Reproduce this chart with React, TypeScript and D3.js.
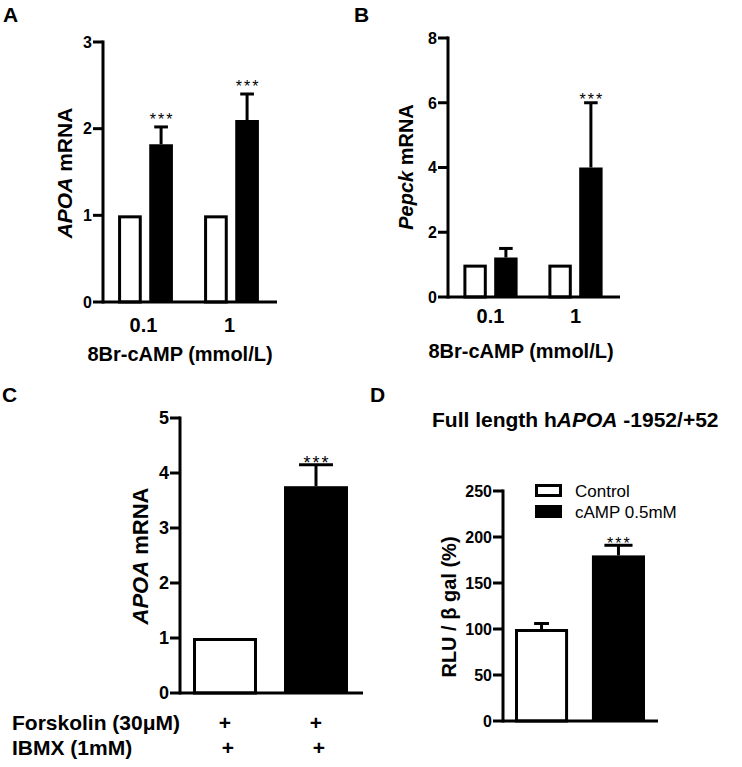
import React from 'react';
import * as d3 from 'd3';

const FONT = "'Liberation Sans', Arial, Helvetica, sans-serif";

// A: APOA mRNA vs 8Br-cAMP dose
const doseLabels = ['0.1', '1'];
const seriesKeys = ['control', 'camp'];
const apoaControl = [1, 1];
const apoaCamp = [1.82, 2.1];
const apoaCampSem = [0.2, 0.3];
const apoaSig = ['***', '***'];
const apoaTicks = [0, 1, 2, 3];

// B: Pepck mRNA vs 8Br-cAMP dose
const pepckControl = [1, 1];
const pepckCamp = [1.22, 4.0];
const pepckCampSem = [0.28, 2.0];
const pepckSig = ['', '***'];
const pepckTicks = [0, 2, 4, 6, 8];

// C: forskolin + IBMX
const fskGroups = ['control', 'treated'];
const fskValues = [1, 3.76];
const fskSem = [0, 0.39];
const fskSig = ['', '***'];
const fskTicks = [0, 1, 2, 3, 4, 5];
const forskolinRow = ['+', '+'];
const ibmxRow = ['+', '+'];

// D: promoter luciferase
const lucGroups = ['Control', 'cAMP 0.5mM'];
const lucValues = [100, 180];
const lucSem = [6, 11];
const lucSig = ['', '***'];
const lucTicks = [0, 50, 100, 150, 200, 250];

const SW = 3;

function Bar({ x, w, top, base, filled }: { x: number; w: number; top: number; base: number; filled: boolean }) {
  if (filled) return <rect x={x} y={top} width={w} height={base - top} fill="#000" />;
  return (
    <rect x={x + SW / 2} y={top + SW / 2} width={w - SW} height={base - top - SW / 2}
      fill="#fff" stroke="#000" strokeWidth={SW} />
  );
}

function ErrorBar({ cx, yBar, yTop, capW }: { cx: number; yBar: number; yTop: number; capW: number }) {
  if (Math.abs(yBar - yTop) < 0.5) return null;
  return (
    <g stroke="#000" strokeWidth={SW}>
      <line x1={cx} x2={cx} y1={yBar} y2={yTop} />
      <line x1={cx - capW / 2} x2={cx + capW / 2} y1={yTop} y2={yTop} />
    </g>
  );
}

function Stars({ x, y, text, size }: { x: number; y: number; text: string; size: number }) {
  if (!text) return null;
  return (
    <text x={x + 1} y={y} textAnchor="middle" fontSize={size} letterSpacing={2}
      fontFamily={FONT} fill="#000">{text}</text>
  );
}

function Axes({ y, ticks, x0, x1, fontSize, fmt }: {
  y: d3.ScaleLinear<number, number>; ticks: number[]; x0: number; x1: number; fontSize: number; fmt?: (v: number) => string;
}) {
  const [d0, d1] = y.domain();
  return (
    <g>
      <line x1={x0} x2={x0} y1={y(d1)} y2={y(d0)} stroke="#000" strokeWidth={SW} strokeLinecap="square" />
      <line x1={x0} x2={x1} y1={y(d0)} y2={y(d0)} stroke="#000" strokeWidth={SW} />
      {ticks.map(t => (
        <g key={t}>
          <line x1={x0 - 10} x2={x0} y1={y(t)} y2={y(t)} stroke="#000" strokeWidth={SW} />
          <text x={x0 - 11} y={y(t)} dy="0.36em" textAnchor="end" fontSize={fontSize}
            fontWeight="bold" fontFamily={FONT}>{fmt ? fmt(t) : String(t)}</text>
        </g>
      ))}
    </g>
  );
}

function GroupedPanel({ control, treated, sem, sig, ticks, yDomain, yRange, xRange, axisX, axisEnd, starOffset }: any) {
  const y = d3.scaleLinear().domain(yDomain).range(yRange);
  const x0 = d3.scaleBand().domain(doseLabels).range(xRange);
  const x1 = d3.scaleBand().domain(seriesKeys).range([0, x0.bandwidth()]).paddingInner(0.24).paddingOuter(0.5);
  const bw = x1.bandwidth();
  return (
    <g>
      {doseLabels.map((d, i) => {
        const gx = x0(d) || 0;
        const cx = gx + (x1('camp') || 0) + bw / 2;
        const errTop = y(treated[i] + sem[i]);
        return (
          <g key={d}>
            <Bar x={gx + (x1('control') || 0)} w={bw} top={y(control[i])} base={y(0)} filled={false} />
            <Bar x={gx + (x1('camp') || 0)} w={bw} top={y(treated[i])} base={y(0)} filled />
            <ErrorBar cx={cx} yBar={y(treated[i])} yTop={errTop} capW={bw * 0.58} />
            <Stars x={cx} y={errTop + starOffset} text={sig[i]} size={16} />
          </g>
        );
      })}
      <Axes y={y} ticks={ticks} x0={axisX} x1={axisEnd} fontSize={16} />
    </g>
  );
}

export default function App() {
  // Panel C scales
  const yC = d3.scaleLinear().domain([0, 5]).range([693, 418]);
  const xC = d3.scaleBand().domain(fskGroups).range([180, 361]).paddingInner(0.297).paddingOuter(0.143);
  const bwC = xC.bandwidth();
  // Panel D scales
  const yD = d3.scaleLinear().domain([0, 250]).range([721, 491]);
  const xD = d3.scaleBand().domain(lucGroups).range([503, 657]).paddingInner(0.31).paddingOuter(0.156);
  const bwD = xD.bandwidth();

  const x0A = d3.scaleBand().domain(doseLabels).range([102.5, 274.5]);
  const x0B = d3.scaleBand().domain(doseLabels).range([448, 618]);

  return (
    <svg width={742} height={767} style={{ position: 'absolute', left: 0, top: 0, display: 'block', background: '#fff' }}
      fontFamily={FONT}>
      <rect width={742} height={767} fill="#fff" />
      {/* Panel letters */}
      <text x={3} y={22} fontSize={21} fontWeight="bold">A</text>
      <text x={354} y={22} fontSize={21} fontWeight="bold">B</text>
      <text x={2} y={402} fontSize={21} fontWeight="bold">C</text>
      <text x={370} y={402} fontSize={21} fontWeight="bold">D</text>

      {/* Panel A */}
      <GroupedPanel control={apoaControl} treated={apoaCamp} sem={apoaCampSem} sig={apoaSig} ticks={apoaTicks}
        yDomain={[0, 3]} yRange={[302, 42]} xRange={[102.5, 274.5]} axisX={103} axisEnd={277} starOffset={-2} />
      {doseLabels.map(d => (
        <text key={d} x={(x0A(d) || 0) + x0A.bandwidth() / 2 - 2} y={332} textAnchor="middle" fontSize={20} fontWeight="bold">{d}</text>
      ))}
      <text x={180} y={361} textAnchor="middle" fontSize={20} fontWeight="bold">8Br-cAMP (mmol/L)</text>
      <text transform="translate(72,173) rotate(-90)" textAnchor="middle" fontSize={21} fontWeight="bold">
        <tspan fontStyle="italic">APOA</tspan> mRNA
      </text>

      {/* Panel B */}
      <GroupedPanel control={pepckControl} treated={pepckCamp} sem={pepckCampSem} sig={pepckSig} ticks={pepckTicks}
        yDomain={[0, 8]} yRange={[297, 38]} xRange={[448, 618]} axisX={448} axisEnd={620} starOffset={2} />
      {doseLabels.map(d => (
        <text key={d} x={(x0B(d) || 0) + x0B.bandwidth() / 2} y={323} textAnchor="middle" fontSize={20} fontWeight="bold">{d}</text>
      ))}
      <text x={521} y={358} textAnchor="middle" fontSize={20} fontWeight="bold">8Br-cAMP (mmol/L)</text>
      <text transform="translate(413,167) rotate(-90)" textAnchor="middle" fontSize={20} fontWeight="bold">
        <tspan fontStyle="italic">Pepck</tspan> mRNA
      </text>

      {/* Panel C */}
      {fskGroups.map((g, i) => {
        const bx = xC(g) || 0;
        const cx = bx + bwC / 2;
        const errTop = yC(fskValues[i] + fskSem[i]);
        return (
          <g key={g}>
            <Bar x={bx} w={bwC} top={yC(fskValues[i])} base={yC(0)} filled={i === 1} />
            <ErrorBar cx={cx} yBar={yC(fskValues[i])} yTop={errTop} capW={bwC * 0.53} />
            <Stars x={cx} y={errTop + 4} text={fskSig[i]} size={18} />
            <text x={cx} y={730} textAnchor="middle" fontSize={21} fontWeight="bold">{forskolinRow[i]}</text>
            <text x={cx + 3} y={755} textAnchor="middle" fontSize={21} fontWeight="bold">{ibmxRow[i]}</text>
          </g>
        );
      })}
      <Axes y={yC} ticks={fskTicks} x0={180} x1={363} fontSize={18} />
      <text x={12} y={730} fontSize={21} fontWeight="bold">Forskolin (30μM)</text>
      <text x={12} y={755} fontSize={21} fontWeight="bold">IBMX (1mM)</text>
      <text transform="translate(148,556) rotate(-90)" textAnchor="middle" fontSize={22} fontWeight="bold">
        <tspan fontStyle="italic">APOA</tspan> mRNA
      </text>

      {/* Panel D */}
      <text x={432} y={427} fontSize={21} fontWeight="bold">
        Full length h<tspan fontStyle="italic">APOA</tspan> -1952/+52
      </text>
      {lucGroups.map((g, i) => {
        const bx = xD(g) || 0;
        const cx = bx + bwD / 2;
        const errTop = yD(lucValues[i] + lucSem[i]);
        return (
          <g key={g}>
            <Bar x={bx} w={bwD} top={yD(lucValues[i])} base={yD(0)} filled={i === 1} />
            <ErrorBar cx={cx} yBar={yD(lucValues[i])} yTop={errTop} capW={i === 0 ? bwD * 0.28 : bwD * 0.53} />
            <Stars x={cx} y={errTop + 4} text={lucSig[i]} size={16} />
          </g>
        );
      })}
      <Axes y={yD} ticks={lucTicks} x0={503} x1={658} fontSize={16} />
      <text transform="translate(456,607) rotate(-90)" textAnchor="middle" fontSize={20} fontWeight="bold">
        RLU / β gal (%)
      </text>
      {/* Legend */}
      {lucGroups.map((g, i) => (
        <g key={g}>
          {i === 0
            ? <rect x={536.5} y={485.5} width={24} height={10} fill="#fff" stroke="#000" strokeWidth={SW} />
            : <rect x={535} y={505} width={27} height={13} fill="#000" />}
          <text x={575} y={i === 0 ? 497 : 518} fontSize={17}>{g}</text>
        </g>
      ))}
    </svg>
  );
}
